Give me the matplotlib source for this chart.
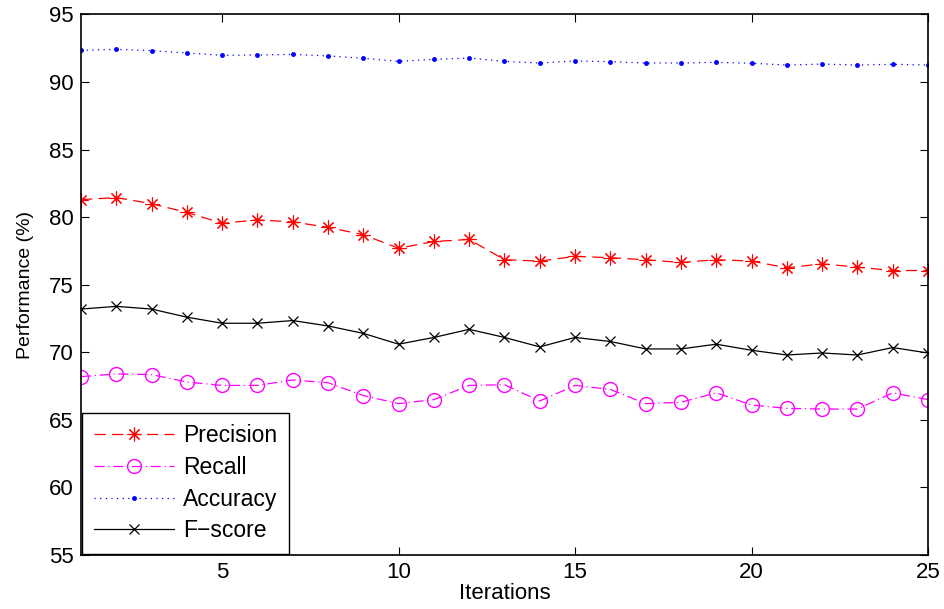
import matplotlib.pyplot as plt
import numpy as np

plt.rcParams['font.family'] = ['Liberation Sans', 'DejaVu Sans']

iterations = np.arange(1, 26)

precision = [81.3, 81.45, 81.0, 80.35, 79.55, 79.8, 79.65, 79.25, 78.7, 77.7,
             78.2, 78.35, 76.85, 76.75, 77.1, 77.0, 76.85, 76.65, 76.85, 76.75,
             76.25, 76.55, 76.3, 76.05, 76.05]
recall = [68.2, 68.4, 68.35, 67.8, 67.55, 67.55, 67.95, 67.75, 66.8, 66.2,
          66.5, 67.55, 67.6, 66.4, 67.55, 67.25, 66.2, 66.3, 67.0, 66.1,
          65.85, 65.8, 65.8, 67.0, 66.5]
accuracy = [92.35, 92.42, 92.33, 92.15, 91.98, 92.0, 92.05, 91.93, 91.76, 91.53,
            91.68, 91.78, 91.53, 91.41, 91.56, 91.51, 91.41, 91.41, 91.46, 91.39,
            91.26, 91.33, 91.26, 91.31, 91.26]
fscore = [73.2, 73.4, 73.2, 72.6, 72.15, 72.15, 72.35, 71.95, 71.4, 70.6,
          71.1, 71.7, 71.1, 70.4, 71.1, 70.8, 70.25, 70.25, 70.6, 70.15,
          69.8, 69.95, 69.8, 70.35, 69.95]

fig = plt.figure(figsize=(9.45, 6.09), dpi=100)
ax = fig.add_axes([0.0857, 0.0887, 0.8963, 0.8875])

# matlab-like asterisk: 8 spokes
ax.plot(iterations, precision, color='red', marker=(8, 2, 0), markersize=10,
        markeredgewidth=0.8, lw=0.9, dashes=(9, 5), label='Precision')
ax.plot(iterations, recall, color='magenta', marker='o', markersize=10,
        markerfacecolor='none', markeredgewidth=1.0, lw=0.9,
        dashes=(8, 3, 1, 3), label='Recall')
ax.plot(iterations, accuracy, color='blue', marker='.', markersize=5,
        lw=0.9, dashes=(1, 3.5), label='Accuracy')
ax.plot(iterations, fscore, '-', color='black', marker='x', markersize=7.5,
        markeredgewidth=0.9, lw=0.9, label='F\u2212score')

ax.set_xlim(1, 25)
ax.set_ylim(55, 95)
ax.set_xticks([5, 10, 15, 20, 25])
ax.set_yticks(np.arange(55, 96, 5))
ax.tick_params(direction='in', top=True, right=True, labelsize=16,
               length=6, width=0.8, pad=5)
for s in ax.spines.values():
    s.set_linewidth(1.2)

ax.set_xlabel('Iterations', fontsize=16, labelpad=0)
ax.set_ylabel('Performance (%)', fontsize=14, labelpad=11)

leg = ax.legend(loc='lower left', fontsize=16.5, handlelength=3.5,
                borderaxespad=0.05, fancybox=False, edgecolor='black',
                framealpha=1, labelspacing=0.38, borderpad=0.5,
                handletextpad=0.4)
leg.get_frame().set_linewidth(1.0)

fig.savefig('out.png', dpi=100)
